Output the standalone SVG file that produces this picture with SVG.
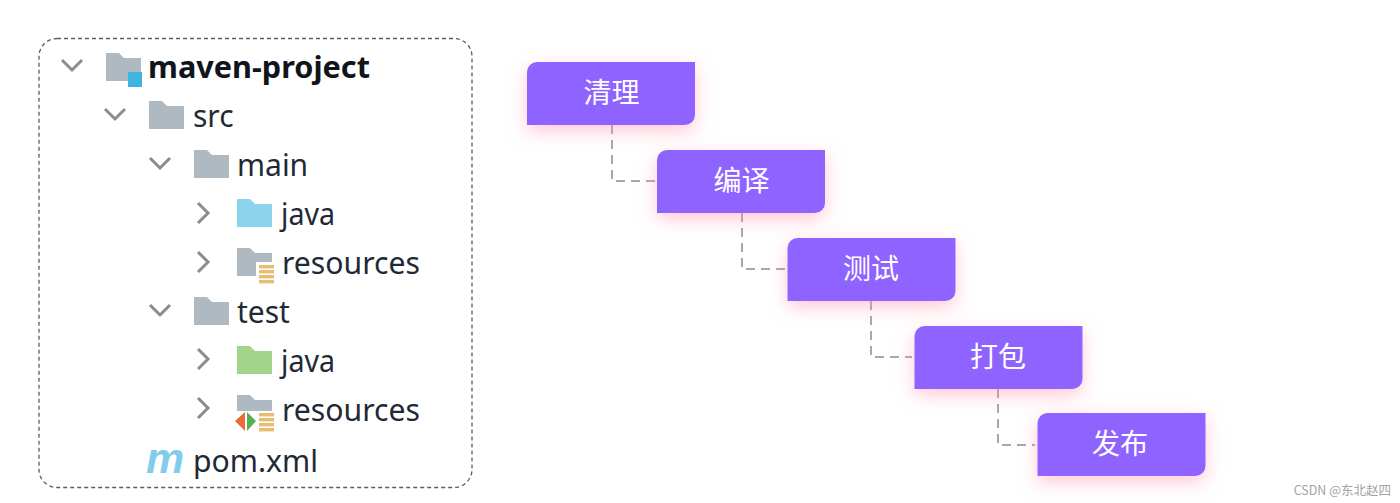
<svg xmlns="http://www.w3.org/2000/svg" width="1400" height="503" viewBox="0 0 1400 503">
  <style>
    .tree { font-family: "Noto Sans", "Open Sans", sans-serif; font-size: 30px; fill: #1f2a36; }
    .chev { fill: none; stroke: #8a8d90; stroke-width: 3; }
    .grey { fill: #aeb9c2; }
    .stack { fill: #e6bd73; }
    .step { fill: #8f63ff; filter: url(#glow); }
    .lbl { font-family: "Noto Sans CJK SC", sans-serif; font-size: 28px; fill: #fff; text-anchor: middle; }
    .link { fill: none; stroke: #a8a8a8; stroke-width: 2; stroke-dasharray: 9 6; }
  </style>
  <defs>
    <filter id="glow" x="-20%" y="-30%" width="140%" height="170%">
      <feDropShadow dx="0" dy="6" stdDeviation="9" flood-color="#ff93aa" flood-opacity="0.5"/>
    </filter>
    <path id="folder" d="M0 0H13L18 5H35V28H0Z"/>
    <path id="step" d="M10 0H168V53A10 10 0 0 1 158 63H0V10A10 10 0 0 1 10 0Z"/>
    <g id="lines">
      <rect width="15" height="3.4" y="0"/><rect width="15" height="3.4" y="5"/><rect width="15" height="3.4" y="10"/><rect width="15" height="3.4" y="15"/>
    </g>
  </defs>
  <rect width="1400" height="503" fill="#fff"/>

  <g id="project-tree">
    <rect x="39" y="38.500" width="433" height="449" rx="18" fill="none" stroke="#5e5e5e" stroke-width="1.300" stroke-dasharray="4 3"/>

    <g id="row-maven-project">
      <path class="chev" d="M62 60L72 70L82 60"/>
      <use href="#folder" class="grey" x="106" y="53"/>
      <rect x="128" y="72" width="14" height="15" fill="#3fb3e2"/>
      <text x="148" y="78" class="tree" font-weight="700" textLength="222" lengthAdjust="spacingAndGlyphs" style="fill:#10151c">maven-project</text>
    </g>
    <g id="row-src">
      <path class="chev" d="M105 109L115 119L125 109"/>
      <use href="#folder" class="grey" x="149" y="101"/>
      <text x="193" y="127" class="tree">src</text>
    </g>
    <g id="row-main">
      <path class="chev" d="M150 158L160 168L170 158"/>
      <use href="#folder" class="grey" x="194" y="150"/>
      <text x="237" y="176" class="tree">main</text>
    </g>
    <g id="row-main-java">
      <path class="chev" d="M198 203L208 213L198 223"/>
      <use href="#folder" x="237" y="199" fill="#8dd3ee"/>
      <text x="281" y="225" class="tree" textLength="54" lengthAdjust="spacingAndGlyphs">java</text>
    </g>
    <g id="row-main-resources">
      <path class="chev" d="M198 252L208 262L198 272"/>
      <use href="#folder" class="grey" x="237" y="248"/>
      <rect x="256" y="262" width="19" height="22" fill="#fff"/>
      <use href="#lines" class="stack" x="259" y="265"/>
      <text x="282" y="274" class="tree" textLength="138" lengthAdjust="spacingAndGlyphs">resources</text>
    </g>
    <g id="row-test">
      <path class="chev" d="M150 305L160 315L170 305"/>
      <use href="#folder" class="grey" x="194" y="297"/>
      <text x="237" y="323" class="tree">test</text>
    </g>
    <g id="row-test-java">
      <path class="chev" d="M198 349L208 359L198 369"/>
      <use href="#folder" x="237" y="346" fill="#a2d48a"/>
      <text x="281" y="372" class="tree" textLength="54" lengthAdjust="spacingAndGlyphs">java</text>
    </g>
    <g id="row-test-resources">
      <path class="chev" d="M198 398L208 408L198 418"/>
      <use href="#folder" class="grey" x="237" y="395"/>
      <rect x="235" y="411" width="40" height="21" fill="#fff"/>
      <path d="M235 421L245 412V431Z" fill="#ec6a3a"/>
      <path d="M247 412L256 421L247 431Z" fill="#55b153"/>
      <use href="#lines" class="stack" x="259" y="413"/>
      <text x="282" y="421" class="tree" textLength="138" lengthAdjust="spacingAndGlyphs">resources</text>
    </g>
    <g id="row-pom">
      <text x="146" y="473" font-family="'Liberation Sans', sans-serif" font-size="43" font-style="italic" font-weight="700" fill="#7fcdea">m</text>
      <text x="193" y="472" class="tree" textLength="125" lengthAdjust="spacingAndGlyphs">pom.xml</text>
    </g>
  </g>

  <g id="connectors">
    <path class="link" d="M612 125V181H655"/>
    <path class="link" d="M742 213V269H785"/>
    <path class="link" d="M871 301V357H912"/>
    <path class="link" d="M998 389V445H1035"/>
  </g>

  <g id="step-clean"><use href="#step" class="step" x="527" y="62"/><text x="611.500" y="103" class="lbl">清理</text></g>
  <g id="step-compile"><use href="#step" class="step" x="657" y="150"/><text x="741.500" y="191" class="lbl">编译</text></g>
  <g id="step-test"><use href="#step" class="step" x="787.500" y="238"/><text x="871" y="279" class="lbl">测试</text></g>
  <g id="step-package"><use href="#step" class="step" x="914.500" y="326"/><text x="998" y="367" class="lbl">打包</text></g>
  <g id="step-publish"><use href="#step" class="step" x="1037.500" y="413"/><text x="1120" y="454" class="lbl">发布</text></g>

  <text x="1391" y="495" text-anchor="end" font-family="'Noto Sans CJK SC', sans-serif" font-size="12.500" fill="#a3a3a3">CSDN @东北赵四</text>
</svg>
